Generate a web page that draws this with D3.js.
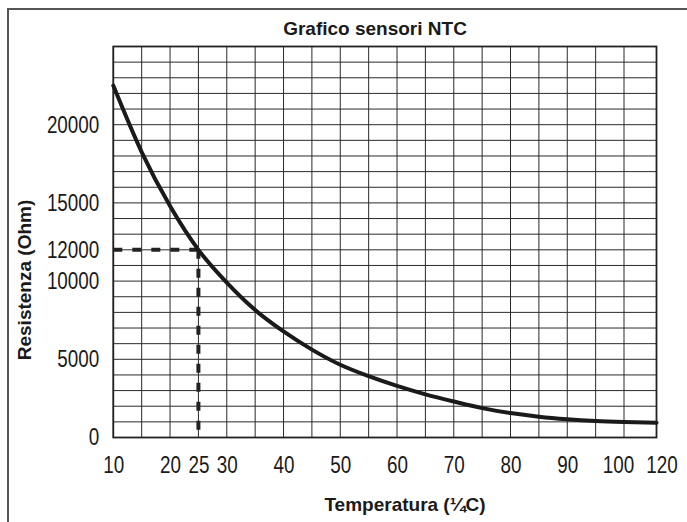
<!DOCTYPE html>
<html>
<head>
<meta charset="utf-8">
<script src="https://cdn.jsdelivr.net/npm/d3@7"></script>
<style>
  html, body { margin: 0; padding: 0; background: #fff; }
  svg { display: block; }
</style>
</head>
<body>
<svg id="chart" width="687" height="522"></svg>
<script>
// NTC sensor resistance curve
const temperatures = [10, 15, 20, 25, 30, 35, 40, 45, 50, 55, 60, 65, 70, 75, 80, 85, 90, 95, 100, 120];
const resistances  = [22500, 18250, 14800, 12000, 9900, 8150, 6780, 5620, 4650, 3920, 3300, 2760, 2300, 1880, 1560, 1330, 1170, 1060, 995, 950];

const xTicks = [10, 20, 25, 30, 40, 50, 60, 70, 80, 90, 100, 120];
const yTicks = [0, 5000, 10000, 12000, 15000, 20000];
const xGrid = [10, 15, 20, 25, 30, 35, 40, 45, 50, 55, 60, 65, 70, 75, 80, 85, 90, 95, 100, 120];
const yGrid = d3.range(0, 25001, 1000);

const refTemp = 25;
const refRes = 12000;

const titleText = "Grafico sensori NTC";
const xTitle = "Temperatura (¼C)";
const yTitle = "Resistenza (Ohm)";

const svg = d3.select("#chart");

const plotLeft = 113.3, plotRight = 656.5, plotTop = 46.5, plotBottom = 437.5;

// temperature axis is compressed between 100 and 120
const x = d3.scaleLinear().domain([10, 100, 120]).range([plotLeft, 624, plotRight]);
const y = d3.scaleLinear().domain([0, 25000]).range([plotBottom, plotTop]);

const boldFont = "Liberation Sans, Arial, sans-serif";
const tickFont = "Liberation Sans, Arial, sans-serif";
const narrow = 0.82;   // horizontal squeeze for the tick numbers

// outer frame
svg.append("rect")
  .attr("x", 8).attr("y", 9)
  .attr("width", 720).attr("height", 560)
  .attr("fill", "none")
  .attr("stroke", "#555")
  .attr("stroke-width", 2);

// title
svg.append("text")
  .attr("x", 375).attr("y", 35)
  .attr("text-anchor", "middle")
  .attr("font-family", boldFont)
  .attr("font-weight", "bold")
  .attr("font-size", 19)
  .attr("fill", "#1a1a1a")
  .text(titleText);

// grid
const grid = svg.append("g").attr("stroke", "#2a2a2a").attr("stroke-width", 1);
grid.selectAll("line.v").data(xGrid).enter().append("line")
  .attr("class", "v")
  .attr("x1", d => x(d)).attr("x2", d => x(d))
  .attr("y1", plotTop).attr("y2", plotBottom);
grid.selectAll("line.h").data(yGrid).enter().append("line")
  .attr("class", "h")
  .attr("x1", plotLeft).attr("x2", plotRight)
  .attr("y1", d => y(d)).attr("y2", d => y(d));

// plot border
svg.append("rect")
  .attr("x", plotLeft).attr("y", plotTop)
  .attr("width", plotRight - plotLeft).attr("height", plotBottom - plotTop)
  .attr("fill", "none")
  .attr("stroke", "#222")
  .attr("stroke-width", 1.8);

// reference dashed lines at 25 °C / 12000 Ohm
const dash = svg.append("g")
  .attr("stroke", "#222")
  .attr("stroke-width", 4)
  .attr("stroke-dasharray", "9,10");
dash.append("line")
  .attr("x1", plotLeft).attr("x2", x(refTemp))
  .attr("y1", y(refRes)).attr("y2", y(refRes));
dash.append("line")
  .attr("x1", x(refTemp)).attr("x2", x(refTemp))
  .attr("y1", y(refRes)).attr("y2", plotBottom);

// resistance curve
const pts = temperatures.map((t, i) => [t, resistances[i]]);
svg.append("path")
  .datum(pts)
  .attr("fill", "none")
  .attr("stroke", "#1a1a1a")
  .attr("stroke-width", 4)
  .attr("stroke-linecap", "round")
  .attr("d", d3.line().x(d => x(d[0])).y(d => y(d[1])).curve(d3.curveMonotoneX));

// y axis labels
const yPad = 14;
const yAxis = svg.append("g")
  .attr("transform", `translate(${plotLeft},0)`)
  .call(d3.axisLeft(y).tickValues(yTicks).tickSize(0).tickPadding(yPad).tickFormat(d3.format("d")));
yAxis.select(".domain").remove();
yAxis.selectAll("text")
  .attr("x", -yPad / narrow)
  .attr("transform", `scale(${narrow},1)`)
  .attr("font-family", tickFont)
  .attr("font-size", 23)
  .attr("fill", "#1a1a1a");

// x axis labels (the last two are spread a little apart)
const xShift = {100: -6, 120: 5};
const xAxis = svg.append("g")
  .attr("transform", `translate(0,${plotBottom})`)
  .call(d3.axisBottom(x).tickValues(xTicks).tickSize(0).tickPadding(19.5).tickFormat(d3.format("d")));
xAxis.select(".domain").remove();
xAxis.selectAll("text")
  .attr("x", d => (xShift[d] || 0) / narrow)
  .attr("transform", `scale(${narrow},1)`)
  .attr("font-family", tickFont)
  .attr("font-size", 23)
  .attr("fill", "#1a1a1a");

// axis titles
svg.append("text")
  .attr("x", 405).attr("y", 511)
  .attr("text-anchor", "middle")
  .attr("font-family", boldFont)
  .attr("font-weight", "bold")
  .attr("font-size", 19)
  .attr("fill", "#1a1a1a")
  .text(xTitle);

svg.append("text")
  .attr("transform", "translate(31,280) rotate(-90)")
  .attr("text-anchor", "middle")
  .attr("font-family", boldFont)
  .attr("font-weight", "bold")
  .attr("font-size", 19)
  .attr("fill", "#1a1a1a")
  .text(yTitle);
</script>
</body>
</html>
